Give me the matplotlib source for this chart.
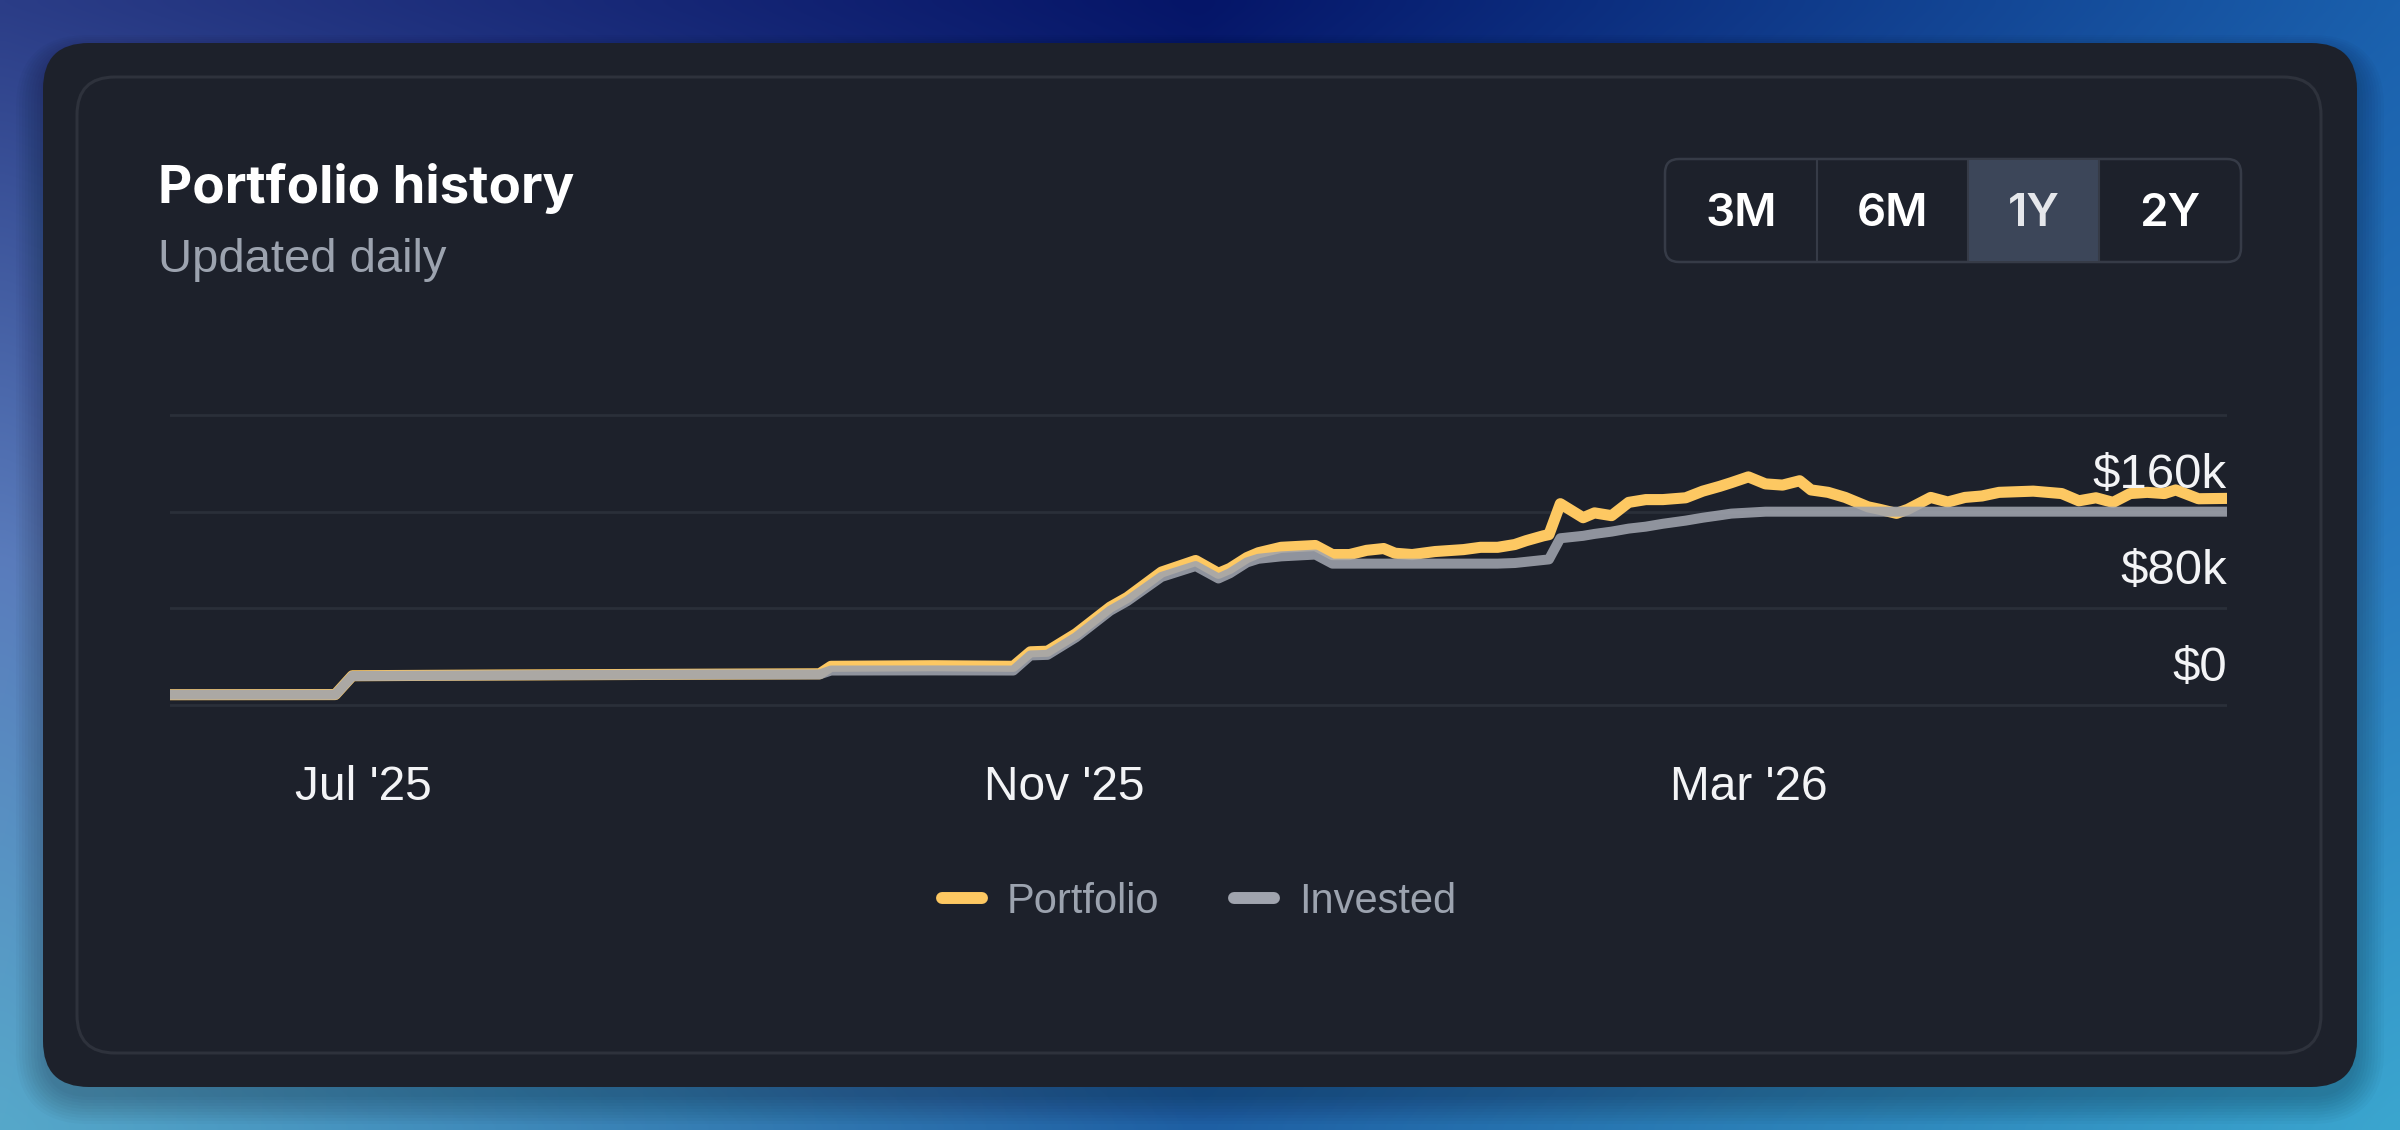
import matplotlib
matplotlib.use('Agg')
import matplotlib.pyplot as plt
from matplotlib.patches import FancyBboxPatch, Rectangle
import numpy as np
import pandas as pd

plt.rcParams['font.family'] = ['Liberation Sans', 'DejaVu Sans']

# ---- data (values in $k) ----
dates = ['2025-05-28', '2025-06-26', '2025-06-29', '2025-07-25', '2025-09-01', '2025-09-19',
         '2025-09-21', '2025-10-09', '2025-10-23', '2025-10-26', '2025-10-29', '2025-11-03',
         '2025-11-09', '2025-11-12', '2025-11-18', '2025-11-24', '2025-11-28', '2025-11-30',
         '2025-12-03', '2025-12-05', '2025-12-09', '2025-12-15', '2025-12-18', '2025-12-21',
         '2025-12-24', '2025-12-27', '2025-12-29', '2026-01-01', '2026-01-05', '2026-01-10',
         '2026-01-13', '2026-01-16', '2026-01-19', '2026-01-21', '2026-01-24', '2026-01-25',
         '2026-01-27', '2026-01-31', '2026-02-02', '2026-02-05', '2026-02-08', '2026-02-11',
         '2026-02-14', '2026-02-18', '2026-02-21', '2026-02-24', '2026-02-26', '2026-03-01',
         '2026-03-04', '2026-03-07', '2026-03-10', '2026-03-12', '2026-03-15', '2026-03-18',
         '2026-03-22', '2026-03-24', '2026-03-27', '2026-03-29', '2026-04-02', '2026-04-05',
         '2026-04-08', '2026-04-11', '2026-04-14', '2026-04-20', '2026-04-25', '2026-04-28',
         '2026-05-01', '2026-05-04', '2026-05-07', '2026-05-10', '2026-05-13', '2026-05-15',
         '2026-05-19', '2026-05-24']

portfolio = [8.5, 8.6, 24.2, 24.8, 25.5, 25.8,
             32.0, 32.5, 32.0, 44.0, 44.5, 59,
             81, 89, 110, 119.6, 109, 113,
             122, 126, 130.5, 132, 124.5, 124.5,
             128, 129.5, 125.6, 124.5, 127, 128.6,
             130.5, 130.5, 132.8, 136, 140, 141,
             166.6, 155, 159, 156.7, 167.7, 170,
             170, 171.5, 177, 181, 184, 188.8,
             183, 182, 185.6, 178, 176, 171.8,
             164, 162, 158.6, 162, 171.8, 168,
             171.8, 173, 176, 177, 175, 169,
             171.5, 167.7, 175, 176, 175, 178,
             170.7, 171]

invested = [8.5, 8.5, 24, 24.6, 25.3, 25.3,
            28.5, 28.6, 28.5, 41, 41.5, 56,
            78, 86, 106, 115, 104.7, 109,
            118, 121, 123, 124.5, 117, 117,
            117, 117, 117, 117, 117, 117,
            117, 117, 117.5, 118.5, 120, 120.5,
            138, 140, 141.6, 143.5, 146, 147.6,
            150, 152.6, 155, 157, 158.4, 159.2,
            160, 160, 160, 160, 160, 160,
            160, 160, 160, 160, 160, 160,
            160, 160, 160, 160, 160, 160,
            160, 160, 160, 160, 160, 160,
            160, 160]

y_ticks = [0, 80000, 160000, 240000]
y_labels = ['$0', '$80k', '$160k']
x_ticks = ['2025-07-01', '2025-11-01', '2026-03-01']
x_labels = ["Jul '25", "Nov '25", "Mar '26"]
ranges = ['3M', '6M', '1Y', '2Y']
active = '1Y'

YELLOW = '#fdc862'
GREY = '#a0a4ae'
CARD = '#1d212b'

W, H = 2400, 1130
fig = plt.figure(figsize=(W / 100, H / 100), dpi=100)

# ---- background layer, pixel coords with y going down ----
bg = fig.add_axes([0, 0, 1, 1])
bg.axis('off')


def hex2rgb(h):
    return np.array([int(h[i:i + 2], 16) for i in (1, 3, 5)]) / 255


rows = [['#2b3d87', '#051568', '#1a60ad'],
        ['#5a7cbc', '#173f8e', '#2a7cc0'],
        ['#56a8ca', '#1e5fa3', '#3ba6cf']]
corners = np.array([[hex2rgb(c) for c in r] for r in rows])
xs = np.linspace(0, 2, 240)
ys = np.linspace(0, 2, 113)
img = np.zeros((113, 240, 3))
for c in range(3):
    rowi = np.array([np.interp(xs, [0, 1, 2], corners[r, :, c]) for r in range(3)])
    img[:, :, c] = np.array([np.interp(ys, [0, 1, 2], rowi[:, j]) for j in range(240)]).T
bg.imshow(img, extent=(0, W, H, 0), interpolation='bicubic', aspect='auto', zorder=0)
bg.set_xlim(0, W)
bg.set_ylim(H, 0)

# soft shadow under card
for i in range(10):
    bg.add_patch(FancyBboxPatch((43 - 3 * i, 53 - 2 * i), 2314 + 6 * i, 1044 + 5 * i,
                                boxstyle='round,pad=0,rounding_size=%d' % (46 + 3 * i),
                                fc='black', ec='none', alpha=0.025, zorder=1))

bg.add_patch(FancyBboxPatch((43, 43), 2314, 1044, boxstyle='round,pad=0,rounding_size=46',
                            fc=CARD, ec='none', zorder=2))
bg.add_patch(FancyBboxPatch((77, 77), 2244, 976, boxstyle='round,pad=0,rounding_size=38',
                            fc='none', ec='#2e323c', lw=2.2, zorder=3))

bg.text(158, 203, 'Portfolio history', fontsize=38, fontweight='bold',
        family=['Inter', 'DejaVu Sans'], color='white', va='baseline', zorder=4)
bg.text(158, 272, 'Updated daily', fontsize=34, color='#9ca3af', va='baseline', zorder=4)

# range selector
edges = [1665, 1817, 1968, 2099, 2241]
bg.add_patch(FancyBboxPatch((edges[0], 159), edges[-1] - edges[0], 103,
                            boxstyle='round,pad=0,rounding_size=14',
                            fc=CARD, ec='#363b47', lw=1.8, zorder=4))
for i, name in enumerate(ranges):
    if name == active:
        bg.add_patch(Rectangle((edges[i], 160), edges[i + 1] - edges[i], 101,
                               fc='#3c4659', ec='none', zorder=5))
    bg.text((edges[i] + edges[i + 1]) / 2, 226, name, fontsize=33, fontweight='semibold',
            family=['Inter', 'DejaVu Sans'], ha='center', va='baseline',
            color='#e5e7eb' if name == active else 'white', zorder=6)
for e in edges[1:-1]:
    bg.plot([e, e], [160, 261], color='#363b47', lw=1.5, zorder=6)

# ---- chart ----
top_px, bot_px = 410.2, 709.8
ax = fig.add_axes([170 / W, 1 - bot_px / H, (2227 - 170) / W, (bot_px - top_px) / H])
ax.patch.set_alpha(0)

d = pd.to_datetime(dates)
ax.plot(d, np.array(portfolio) * 1000, color=YELLOW, lw=8, solid_joinstyle='round',
        label='Portfolio', zorder=3)
ax.plot(d, np.array(invested) * 1000, color=GREY, lw=7.2, alpha=0.88,
        solid_joinstyle='round', label='Invested', zorder=4)

ax.set_xlim(d[0], d[-1])
ax.set_ylim(-4000, 244000)
ax.set_yticks(y_ticks)
ax.yaxis.grid(True, color='#2a2f39', lw=2)
ax.set_axisbelow(True)
ax.tick_params(axis='y', length=0, labelleft=False)
for s in ax.spines.values():
    s.set_visible(False)

for v, lab in zip(y_ticks, y_labels):
    ax.annotate(lab, xy=(1, v), xycoords=('axes fraction', 'data'), xytext=(0, 24),
                textcoords='offset pixels', ha='right', va='baseline',
                fontsize=35.5, color='#f3f4f6')

ax.set_xticks(pd.to_datetime(x_ticks))
ax.set_xticklabels(x_labels)
ax.tick_params(axis='x', length=0, pad=40, labelsize=34.5, labelcolor='#f3f4f6')

leg = ax.legend(loc='center', bbox_to_anchor=(1199 / W, 1 - 902 / H),
                bbox_transform=fig.transFigure, ncol=2, frameon=False, fontsize=30,
                labelcolor='#9ca3af', handlelength=0.96, handletextpad=0.6,
                columnspacing=1.8)
for ln in leg.get_lines():
    ln.set_linewidth(8.6)
    ln.set_solid_capstyle('round')
    ln.set_alpha(1)

fig.savefig('out.png', dpi=100)
